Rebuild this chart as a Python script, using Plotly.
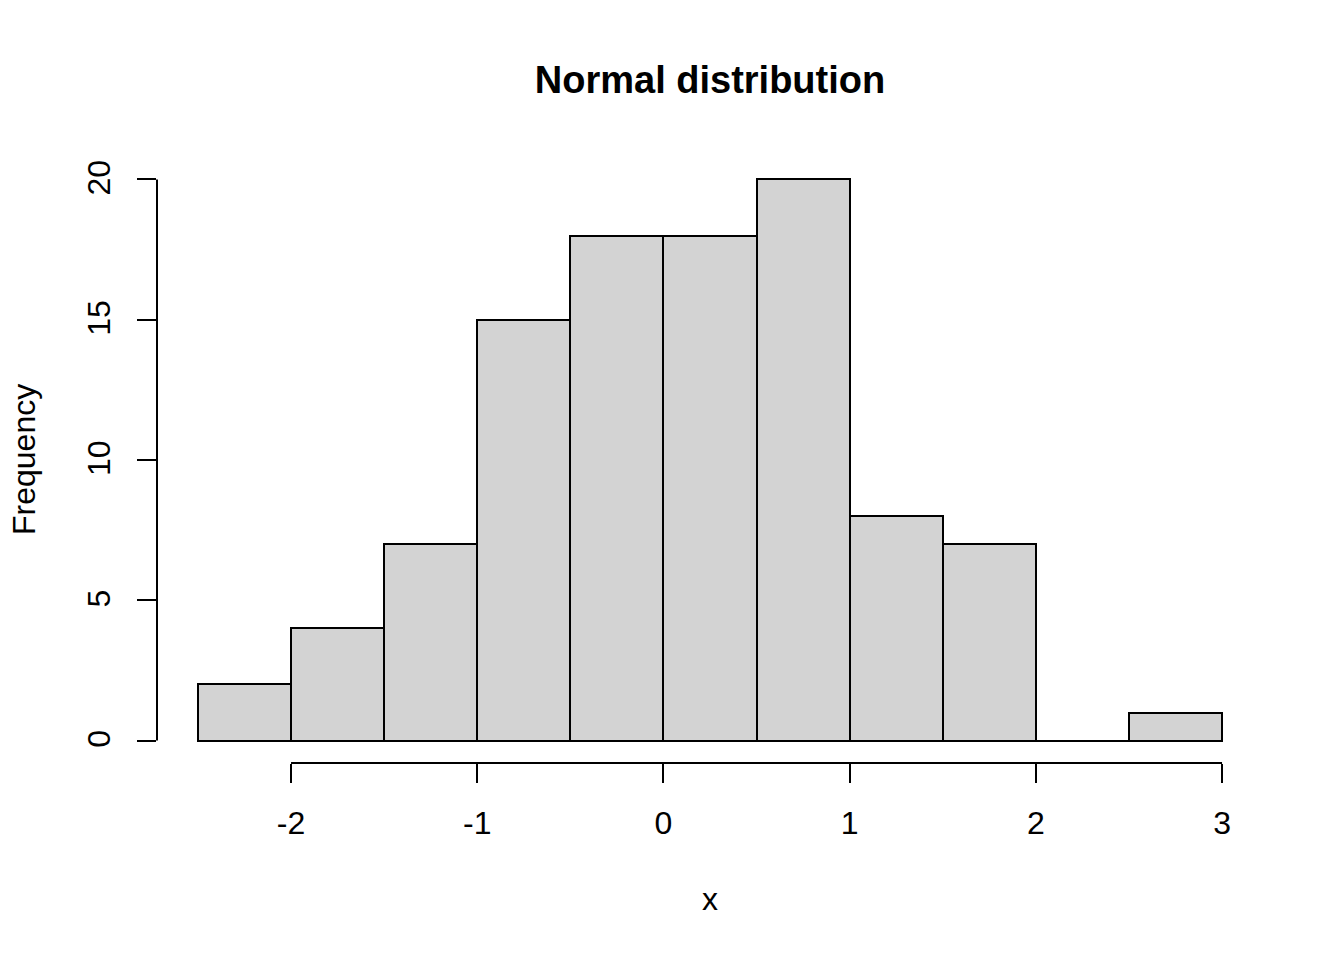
import plotly.graph_objects as go

# Data
bin_edges = [-2.5, -2.0, -1.5, -1.0, -0.5, 0.0, 0.5, 1.0, 1.5, 2.0, 2.5, 3.0]
counts = [2, 4, 7, 15, 18, 18, 20, 8, 7, 0, 1]
x_ticks = [-2, -1, 0, 1, 2, 3]
y_ticks = [0, 5, 10, 15, 20]
title_text = "Normal distribution"
x_label = "x"
y_label = "Frequency"

centers = [(a + b) / 2 for a, b in zip(bin_edges[:-1], bin_edges[1:])]
widths = [b - a for a, b in zip(bin_edges[:-1], bin_edges[1:])]

FONT = "Liberation Sans, Arial, sans-serif"
W, H = 1344, 960
L, R, T, B = 157, 81, 156.5, 196.5
pw, ph = W - L - R, H - T - B

fig = go.Figure()
fig.add_trace(go.Bar(
    x=centers, y=counts, width=widths,
    marker=dict(color="#D3D3D3", line=dict(color="black", width=2)),
    hoverinfo="x+y",
))

xmin, xmax = bin_edges[0], bin_edges[-1]
xr = (xmax - xmin) * 0.04
ymax = max(counts)
yr = ymax * 0.04

fig.update_layout(
    width=W, height=H,
    margin=dict(l=L, r=R, t=T, b=B, pad=0),
    paper_bgcolor="white", plot_bgcolor="white",
    showlegend=False,
    bargap=0,
    font=dict(family=FONT, size=32, color="black"),
    title=dict(text="<b>" + title_text + "</b>", x=(L + pw / 2) / W, xanchor="center",
               y=1 - 80 / H, yanchor="middle", yref="container",
               font=dict(family=FONT, size=38, color="black")),
    xaxis=dict(range=[xmin - xr, xmax + xr], showgrid=False, zeroline=False, showline=False,
               tickmode="array", tickvals=x_ticks, ticktext=[str(v) for v in x_ticks],
               ticks="outside", ticklen=19, tickwidth=2, tickcolor="black",
               tickfont=dict(family=FONT, size=32, color="black"), ticklabelstandoff=13),
    yaxis=dict(range=[-yr, ymax + yr], showgrid=False, zeroline=False, showline=False,
               tickmode="array", tickvals=y_ticks, ticktext=[str(v) for v in y_ticks],
               ticks="outside", ticklen=19, tickwidth=2, tickcolor="black", tickangle=-90,
               tickfont=dict(family=FONT, size=32, color="black"), ticklabelstandoff=14,
               ticklabelshift=3),
)

# axis lines spanning only the tick range (R style)
fig.add_shape(type="line", xref="x", yref="paper", x0=x_ticks[0], x1=x_ticks[-1], y0=0, y1=0,
              line=dict(color="black", width=2))
fig.add_shape(type="line", xref="paper", yref="y", x0=0, x1=0, y0=y_ticks[0], y1=y_ticks[-1],
              line=dict(color="black", width=2))

fig.add_annotation(text=x_label, xref="paper", yref="paper", x=0.5,
                   y=(T + ph - 900) / ph,
                   xanchor="center", yanchor="middle", showarrow=False,
                   font=dict(family=FONT, size=32, color="black"))
fig.add_annotation(text=y_label, xref="paper", yref="paper", x=(24 - L) / pw, y=0.5,
                   xanchor="center", yanchor="middle", showarrow=False, textangle=-90,
                   font=dict(family=FONT, size=32, color="black"))

fig.write_html("out.html", config={"displayModeBar": False},
               post_script="document.body.style.margin='0';")
